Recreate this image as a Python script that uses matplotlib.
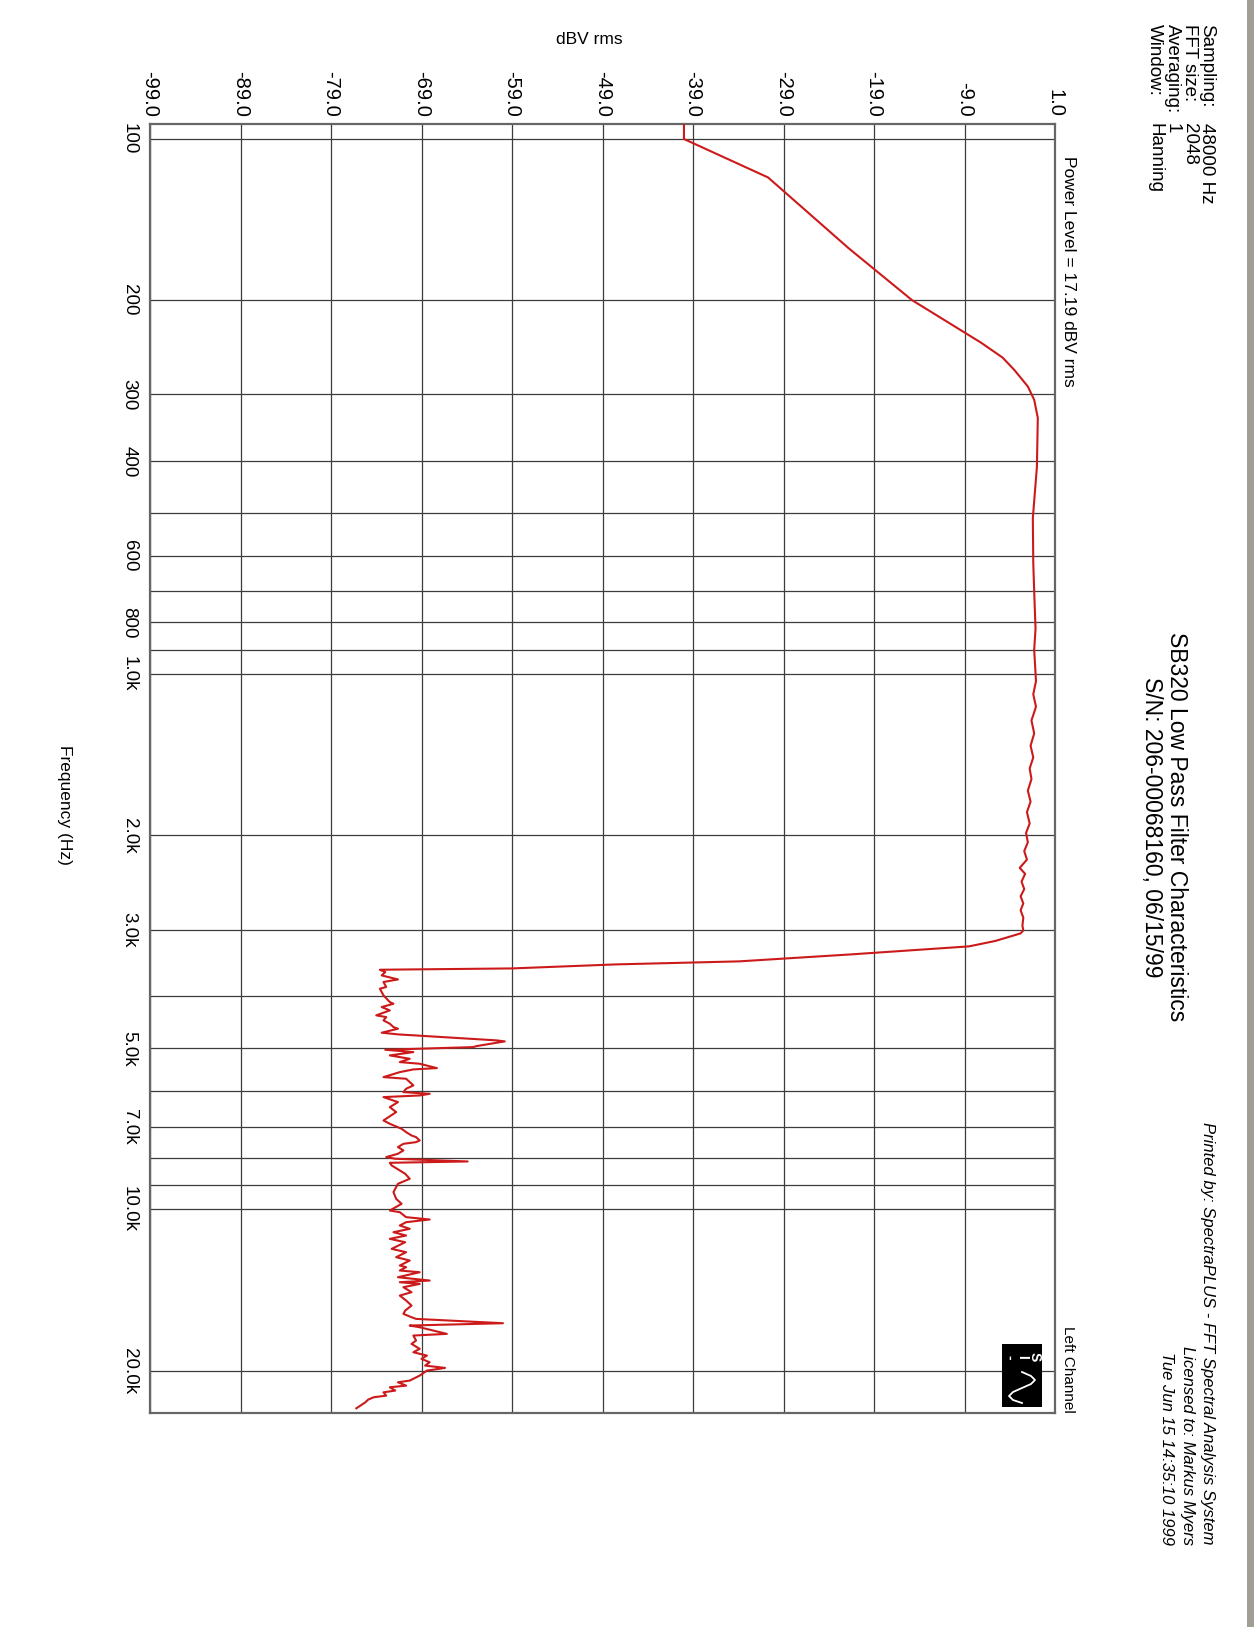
import matplotlib
matplotlib.use("Agg")
from matplotlib import pyplot as plt
from matplotlib.ticker import NullLocator
from matplotlib.patches import Rectangle
from matplotlib.lines import Line2D

plt.rcParams['font.family'] = ['Liberation Sans', 'DejaVu Sans']

# passband + transition band (Hz, dBV rms)
pass_f = [93.75, 100, 118, 160, 200, 240, 256, 270, 290, 307, 332, 410, 511, 620, 700,
          823, 900, 1030, 1090, 1150, 1220, 1290, 1360, 1430, 1500, 1570, 1650, 1730,
          1810, 1900, 1980, 2060, 2140, 2220, 2300, 2360, 2440, 2520, 2600, 2680, 2760,
          2850, 2950, 3010, 3049, 3150, 3224, 3337, 3439, 3484, 3530, 3545, 3565]
pass_db = [-40.0, -40.0, -30.7, -21.8, -14.8, -7.2, -4.8, -3.5, -2.0, -1.3, -0.9, -1.0,
           -1.45, -1.4, -1.3, -1.15, -1.3, -1.1, -1.4, -1.1, -1.6, -1.3, -1.7, -1.4, -1.8,
           -1.6, -2.0, -1.7, -2.1, -1.8, -2.2, -2.0, -2.4, -2.1, -2.9, -2.3, -2.7, -2.4,
           -2.8, -2.5, -2.8, -2.5, -2.6, -2.5, -2.8, -5.6, -8.5, -21.5, -33.9, -47.5,
           -56.3, -59.0, -73.6]

# stopband noise floor
stop_f = [3601, 3653, 3717, 3758, 3840, 3868, 3981, 4097, 4127, 4186, 4246, 4338, 4370,
          4433, 4497, 4562, 4595, 4674, 4708, 4831, 4852, 4951, 4973, 5030, 5081, 5154,
          5229, 5304, 5342, 5443, 5474, 5538, 5658, 5698, 5781, 5864, 5949, 6036, 6079,
          6123, 6166, 6301, 6438, 6577,
          6818, 6917, 7067, 7169, 7273, 7325, 7431, 7484, 7539, 7645, 7756, 7868, 7982,
          8040, 8133, 8180, 8274, 8454, 8576, 8763, 8953, 9148, 9280, 9552, 9759, 10044,
          10116, 10335, 10440, 10561, 10714, 10868, 11026, 11185, 11346, 11511, 11845,
          12017, 12277, 12455, 12726,
          12817, 13002, 13098, 13382, 13575, 13673, 13772, 13970, 14274, 14481, 14795,
          15118, 15446, 15668, 15896, 16010, 16311, 16474, 16595, 17076, 17199, 17574,
          17827, 18213, 18479, 18746, 19016, 19293, 19571, 19770, 19999, 20433, 20876,
          21030, 21333, 21486, 21795, 21956, 22273, 22432, 22660, 22918, 23521]
stop_db = [-73.0, -73.4, -71.6, -73.2, -72.9, -73.6, -73.2, -72.5, -72.1, -73.4, -72.5,
           -74.0, -72.9, -73.2, -72.5, -72.1, -71.6, -73.4, -71.6, -60.7, -59.8, -62.9,
           -63.3, -73.0, -69.9, -72.5, -70.3, -71.4, -69.2, -67.3, -69.9, -71.4, -73.2,
           -70.7, -70.3, -69.9, -70.7, -71.0, -68.1, -69.2, -73.2, -71.6, -72.5, -71.8,
           -73.2, -72.5, -71.2, -70.7, -70.1, -69.6, -69.2, -69.6, -71.0, -71.6, -71.0,
           -71.6, -72.9, -71.9, -63.9, -72.5, -72.3, -71.4, -70.8, -70.3, -71.6, -71.9,
           -72.1, -71.8, -71.2, -72.5, -71.4, -70.7, -68.1, -70.7, -71.4, -70.3, -72.1,
           -70.7, -72.5, -70.8, -72.3, -70.7, -71.8, -70.3, -71.4,
           -70.7, -71.4, -69.2, -71.6, -68.1, -71.4, -69.2, -71.0, -70.1, -71.4, -70.7,
           -70.1, -70.8, -71.0, -70.1, -69.6, -60.0, -70.3, -69.2, -66.2, -69.9, -69.6,
           -70.1, -69.2, -69.9, -68.4, -69.0, -68.1, -68.6, -66.4, -68.4, -69.2, -70.3,
           -71.6, -70.7, -72.5, -71.9, -73.2, -72.9, -74.3, -74.9, -75.2, -76.2]

freq = pass_f + stop_f
level = pass_db + stop_db

f_lines = [100, 200, 300, 400, 500, 600, 700, 800, 900, 1000, 2000, 3000, 4000, 5000,
           6000, 7000, 8000, 9000, 10000, 20000]
f_labels = ['100', '200', '300', '400', '', '600', '', '800', '', '1.0k', '2.0k', '3.0k',
            '', '5.0k', '', '7.0k', '', '', '10.0k', '20.0k']
db_lines = [-99, -89, -79, -69, -59, -49, -39, -29, -19, -9, 1]
db_labels = ['-99.0', '-89.0', '-79.0', '-69.0', '-59.0', '-49.0', '-39.0', '-29.0',
             '-19.0', '-9.0', '1.0']

W, H = 1254, 1627
fig = plt.figure(figsize=(W / 100, H / 100), dpi=100)
fig.patch.set_facecolor('white')

def fx(x):
    return x / W

def fy(y):
    return 1 - y / H

ax = fig.add_axes([fx(150), fy(1413), (1055 - 150) / W, (1413 - 124) / H])
ax.plot(level, freq, color='#cc1a1a', lw=1.5, zorder=3)
ax.set_yscale('log')
ax.set_ylim(24000, 93.75)
ax.set_xlim(-99, 1.0)

ax.set_yticks(f_lines)
ax.set_yticklabels(f_labels)
ax.yaxis.set_minor_locator(NullLocator())
ax.xaxis.tick_top()
ax.set_xticks(db_lines)
ax.set_xticklabels(db_labels)
ax.tick_params(length=0)
ax.tick_params(axis='x', pad=5, labelsize=14.5)
ax.tick_params(axis='y', pad=9, labelsize=13.5)
for t in ax.get_xticklabels():
    t.set_rotation(-90)
    t.set_ha('center')
    t.set_va('bottom')
for t in ax.get_yticklabels():
    t.set_rotation(-90)
    t.set_ha('right')
    t.set_va('center')

ax.grid(True, color='#3c3c3c', lw=0.9)
ax.set_axisbelow(True)
for s in ax.spines.values():
    s.set_color('#666666')
    s.set_linewidth(1.6)

# axis titles
fig.text(fx(589), fy(39), 'dBV rms', ha='center', va='center', fontsize=12.5)
fig.text(fx(64), fy(805), 'Frequency (Hz)', rotation=-90, ha='center', va='center',
         fontsize=12.5)
fig.text(fx(1068), fy(156), 'Power Level = 17.19 dBV rms', rotation=-90, ha='center',
         va='top', fontsize=12.5)
fig.text(fx(1068), fy(1413), 'Left Channel', rotation=-90, ha='center', va='bottom',
         fontsize=11)

# chart title
fig.text(fx(1177), fy(827), 'SB320 Low Pass Filter Characteristics', rotation=-90,
         ha='center', va='center', fontsize=16.5)
fig.text(fx(1151), fy(827), 'S/N: 206-00068160, 06/15/99', rotation=-90,
         ha='center', va='center', fontsize=16.5)

# printout info
info_lbl = ['Sampling:', 'FFT size:', 'Averaging:', 'Window:']
info_val = ['48000 Hz', '2048', '1', 'Hanning']
for i, (a, b) in enumerate(zip(info_lbl, info_val)):
    x = 1207 - 17.5 * i
    fig.text(fx(x), fy(24), a, rotation=-90, ha='center', va='top', fontsize=13.5)
    fig.text(fx(x), fy(123), b, rotation=-90, ha='center', va='top', fontsize=13.5)

printed = ['Printed by: SpectraPLUS - FFT Spectral Analysis System',
           'Licensed to: Markus Myers', 'Tue Jun 15 14:35:10 1999']
for i, s in enumerate(printed):
    fig.text(fx(1208 - 20.5 * i), fy(1545), s, rotation=-90, ha='center', va='bottom',
             fontsize=12, style='italic')

# logo box
fig.add_artist(Rectangle((fx(1002), fy(1407)), 40 / W, 63 / H, transform=fig.transFigure,
                         fc='black', ec='none'))
fig.text(fx(1022), fy(1357), 'S\nI\n-', rotation=-90, ha='center', va='center',
         multialignment='center', color='white', fontsize=10, fontweight='bold',
         linespacing=0.85)
wave_x = [1022, 1031, 1035, 1031, 1022, 1013, 1009, 1013, 1022]
wave_y = [1372, 1376, 1380, 1384, 1388, 1392, 1396, 1400, 1403]
fig.add_artist(Line2D([fx(v) for v in wave_x], [fy(v) for v in wave_y],
                      transform=fig.transFigure, color='white', lw=1.3))

# scanner edge
fig.add_artist(Rectangle((fx(1247), 0), 7 / W, 1, transform=fig.transFigure,
                         fc='#a39e95', ec='none'))

fig.savefig('out.png', dpi=100, facecolor='white')
